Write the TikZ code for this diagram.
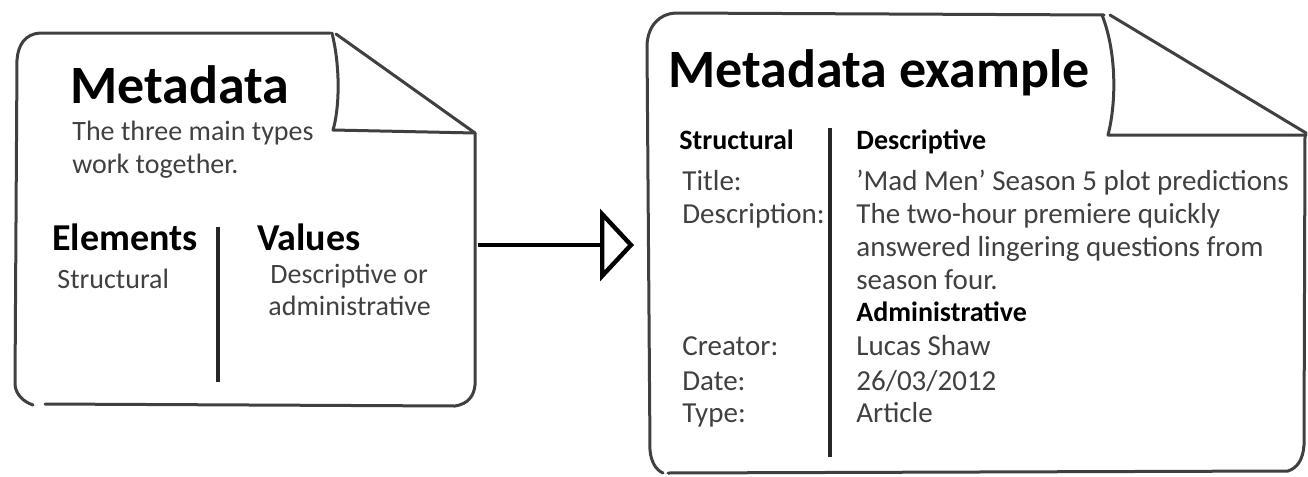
\documentclass[tikz,border=0pt]{standalone}
\usepackage{fontspec}
\setmainfont{Carlito}
\usepackage{tikz}
\usetikzlibrary{arrows.meta}
\usetikzlibrary{positioning}

\tikzset{
	page/.style={draw=black!75, line width=1.5pt, line cap=round, line join=round},
	bar/.style={draw=black!85, line width=1.6pt},
	doctitle/.style={anchor=base west, inner sep=0pt, font=\fontsize{27}{30}\selectfont\bfseries},
	bighead/.style={anchor=base west, inner sep=0pt, font=\fontsize{19}{22}\selectfont\bfseries},
	smallhead/.style={anchor=base west, inner sep=0pt, font=\fontsize{14}{16}\selectfont\bfseries},
	body/.style={anchor=base west, inner sep=0pt, text=black!75, font=\fontsize{14}{16}\selectfont},
	rbody/.style={anchor=base west, inner sep=0pt, text=black!75, font=\fontsize{14.5}{16}\selectfont},
}

\begin{document}
\begin{tikzpicture}[x=0.5pt, y=-0.5pt]
			\useasboundingbox (0,0) rectangle (1308,477);
			
			%coordinates
			\coordinate (lout) at (478,245);
			\coordinate (rin)  at (634,245);
			
			%left page
			\draw[page] (330,33) -- (40,33) .. controls (25,34) and (18,45) .. (17,60) -- (15,385) .. controls (16,395) and (24,402) .. (33,405);
			\draw[page] (45,404) -- (455,406) .. controls (468,404) and (474,396) .. (475,385) -- (475,133);
			\draw[page] (332,33) .. controls (341,70) and (339,110) .. (333,130) -- (475,133);
			\draw[page] (336,34) -- (475,133);
			\draw[bar] (218,227) -- (218,382);
			
			%right page
			\draw[page] (1104,15) -- (675,13) .. controls (660,14) and (648,25) .. (647,45) -- (650,450) .. controls (651,462) and (656,470) .. (663,473);
			\draw[page] (668,473) -- (1288,471) .. controls (1297,468) and (1303,460) .. (1304,445) -- (1305,135);
			\draw[page] (1102,15) .. controls (1116,50) and (1117,100) .. (1108,135) -- (1306,135);
			\draw[page] (1110,15) -- (1306,133);
			\draw[bar] (830,128) -- (830,457);
			
			%nodes (left)
			\node[doctitle] (ltitle) at (70,103) {Metadata};
			\node[body] (lsubA) at (72,140) {The three main types};
			\node[body] (lsubB) at (72,173) {work together.};
			\node[bighead] (elem) at (52,250) {Elements};
			\node[bighead] (vals) at (257,250) {Values};
			\node[body] (lstruct) at (57,288) {Structural};
			\node[body] (ldescA) at (270,283) {Descriptive or};
			\node[body] (ldescB) at (268,315) {administrative};
			
			%nodes (right)
			\node[doctitle] (rtitle) at (668,87) {Metadata example};
			\node[smallhead] (rstruct) at (679,149) {Structural};
			\node[smallhead] (rdesc) at (856,149) {Descriptive};
			\node[rbody] (ktitle) at (682,190) {Title:};
			\node[rbody] (kdesc) at (682,223) {Description:};
			\node[rbody] (kcreator) at (682,355) {Creator:};
			\node[rbody] (kdate) at (682,390) {Date:};
			\node[rbody] (ktype) at (682,422) {Type:};
			\node[rbody] (vtitle) at (856,190) {'Mad Men' Season 5 plot predictions};
			\node[rbody] (vdescA) at (856,223) {The two-hour premiere quickly};
			\node[rbody] (vdescB) at (856,256) {answered lingering questions from};
			\node[rbody] (vdescC) at (856,289) {season four.};
			\node[smallhead] (radmin) at (856,321) {Administrative};
			\node[rbody] (vcreator) at (856,355) {Lucas Shaw};
			\node[rbody] (vdate) at (856,390) {26/03/2012};
			\node[rbody] (vtype) at (856,422) {Article};
			
			%arrow
			\draw[-{Triangle[open, length=17pt, width=36pt]}, line width=2.2pt] (lout) -- (rin);
\end{tikzpicture}
\end{document}
